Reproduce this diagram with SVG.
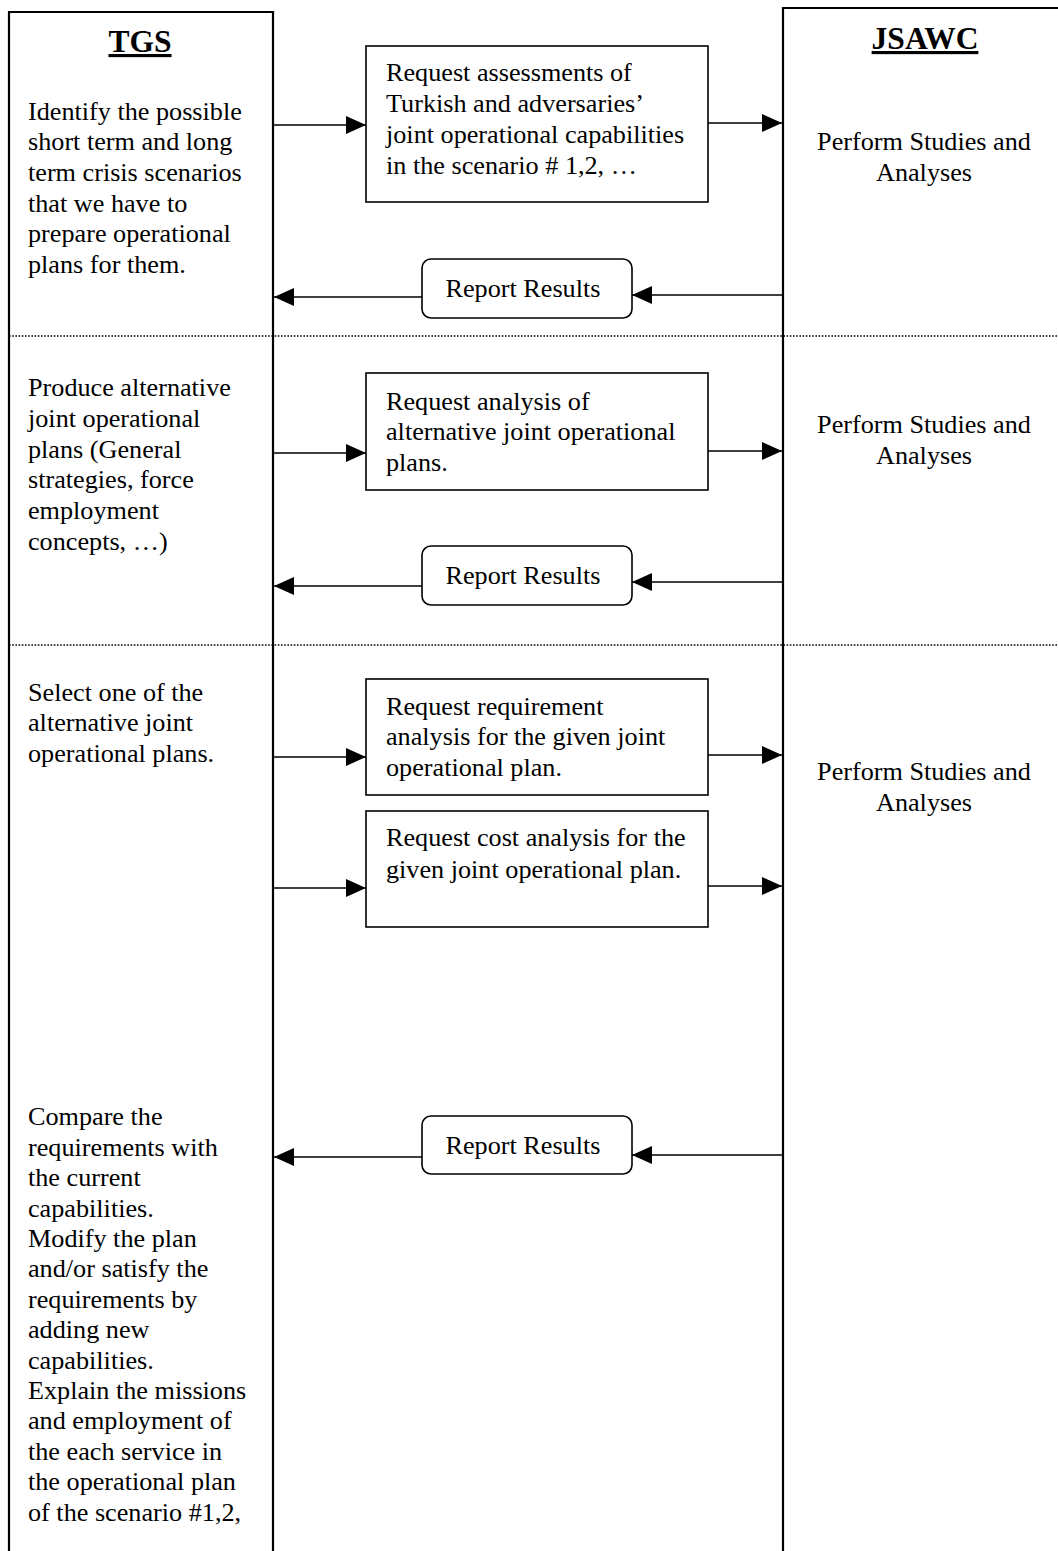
<svg xmlns="http://www.w3.org/2000/svg" width="1058" height="1551" viewBox="0 0 1058 1551">
  <style>
    .lane { fill: none; stroke: #000; stroke-width: 2.2; }
    .box { fill: #fff; stroke: #000; stroke-width: 1.6; }
    .sep { fill: none; stroke: #000; stroke-width: 1.6; stroke-dasharray: 1.6 1.6; }
    .conn { fill: none; stroke: #000; stroke-width: 1.6; marker-end: url(#head); }
    text { font-family: "Liberation Serif", "Times New Roman", serif; font-size: 26.2px; fill: #000; }
    .hdr { font-size: 31.5px; font-weight: bold; text-decoration: underline; text-anchor: middle; }
    .mid { text-anchor: middle; }
  </style>
  <defs>
    <marker id="head" markerUnits="userSpaceOnUse" markerWidth="20" markerHeight="20" refX="20" refY="10" orient="auto">
      <path d="M0,1 L20,10 L0,19 Z" fill="#000"/>
    </marker>
  </defs>

  <!-- swimlane separators -->
  <g id="separators">
    <line class="sep" x1="9" y1="336" x2="1058" y2="336"/>
    <line class="sep" x1="9" y1="645" x2="1058" y2="645"/>
  </g>

  <!-- TGS lane -->
  <g id="lane-tgs">
    <path class="lane" d="M9,1551 V12 H273 V1551"/>
    <text class="hdr" x="140" y="52">TGS</text>
    <text x="28" y="120">Identify the possible</text>
    <text x="28" y="150">short term and long</text>
    <text x="28" y="181">term crisis scenarios</text>
    <text x="28" y="212">that we have to</text>
    <text x="28" y="242">prepare operational</text>
    <text x="28" y="273">plans for them.</text>

    <text x="28" y="396">Produce alternative</text>
    <text x="28" y="427">joint operational</text>
    <text x="28" y="458">plans (General</text>
    <text x="28" y="488">strategies, force</text>
    <text x="28" y="519">employment</text>
    <text x="28" y="550">concepts, …)</text>

    <text x="28" y="701">Select one of the</text>
    <text x="28" y="731">alternative joint</text>
    <text x="28" y="762">operational plans.</text>

    <text x="28" y="1125">Compare the</text>
    <text x="28" y="1156">requirements with</text>
    <text x="28" y="1186">the current</text>
    <text x="28" y="1217">capabilities.</text>
    <text x="28" y="1247">Modify the plan</text>
    <text x="28" y="1277">and/or satisfy the</text>
    <text x="28" y="1308">requirements by</text>
    <text x="28" y="1338">adding new</text>
    <text x="28" y="1369">capabilities.</text>
    <text x="28" y="1399">Explain the missions</text>
    <text x="28" y="1429">and employment of</text>
    <text x="28" y="1460">the each service in</text>
    <text x="28" y="1490">the operational plan</text>
    <text x="28" y="1521">of the scenario #1,2,</text>
  </g>

  <!-- JSAWC lane -->
  <g id="lane-jsawc">
    <path class="lane" d="M783,1551 V8 H1058"/>
    <text class="hdr" x="925" y="49">JSAWC</text>
    <text class="mid" x="924" y="150">Perform Studies and</text>
    <text class="mid" x="924" y="181">Analyses</text>
    <text class="mid" x="924" y="433">Perform Studies and</text>
    <text class="mid" x="924" y="464">Analyses</text>
    <text class="mid" x="924" y="780">Perform Studies and</text>
    <text class="mid" x="924" y="811">Analyses</text>
  </g>

  <!-- connectors -->
  <g id="connectors">
    <line class="conn" x1="274" y1="125" x2="366" y2="125"/>
    <line class="conn" x1="708" y1="123" x2="782" y2="123"/>
    <line class="conn" x1="782" y1="295" x2="632" y2="295"/>
    <line class="conn" x1="422" y1="297" x2="274" y2="297"/>

    <line class="conn" x1="274" y1="453" x2="366" y2="453"/>
    <line class="conn" x1="708" y1="451" x2="782" y2="451"/>
    <line class="conn" x1="782" y1="582" x2="632" y2="582"/>
    <line class="conn" x1="422" y1="586" x2="274" y2="586"/>

    <line class="conn" x1="274" y1="757" x2="366" y2="757"/>
    <line class="conn" x1="708" y1="755" x2="782" y2="755"/>
    <line class="conn" x1="274" y1="888" x2="366" y2="888"/>
    <line class="conn" x1="708" y1="886" x2="782" y2="886"/>

    <line class="conn" x1="782" y1="1155" x2="632" y2="1155"/>
    <line class="conn" x1="422" y1="1157" x2="274" y2="1157"/>
  </g>

  <!-- request boxes -->
  <g id="req-assessments">
    <rect class="box" x="366" y="46" width="342" height="156"/>
    <text x="386" y="81">Request assessments of</text>
    <text x="386" y="112">Turkish and adversaries’</text>
    <text x="386" y="143">joint operational capabilities</text>
    <text x="386" y="174">in the scenario # 1,2, …</text>
  </g>
  <g id="report-1">
    <rect class="box" x="422" y="259" width="210" height="59" rx="9"/>
    <text class="mid" x="523" y="297">Report Results</text>
  </g>

  <g id="req-alternatives">
    <rect class="box" x="366" y="373" width="342" height="117"/>
    <text x="386" y="410">Request analysis of</text>
    <text x="386" y="440">alternative joint operational</text>
    <text x="386" y="471">plans.</text>
  </g>
  <g id="report-2">
    <rect class="box" x="422" y="546" width="210" height="59" rx="9"/>
    <text class="mid" x="523" y="584">Report Results</text>
  </g>

  <g id="req-requirements">
    <rect class="box" x="366" y="679" width="342" height="116"/>
    <text x="386" y="715">Request requirement</text>
    <text x="386" y="745">analysis for the given joint</text>
    <text x="386" y="776">operational plan.</text>
  </g>
  <g id="req-cost">
    <rect class="box" x="366" y="811" width="342" height="116"/>
    <text x="386" y="846">Request cost analysis for the</text>
    <text x="386" y="878">given joint operational plan.</text>
  </g>
  <g id="report-3">
    <rect class="box" x="422" y="1116" width="210" height="58" rx="9"/>
    <text class="mid" x="523" y="1154">Report Results</text>
  </g>
</svg>
